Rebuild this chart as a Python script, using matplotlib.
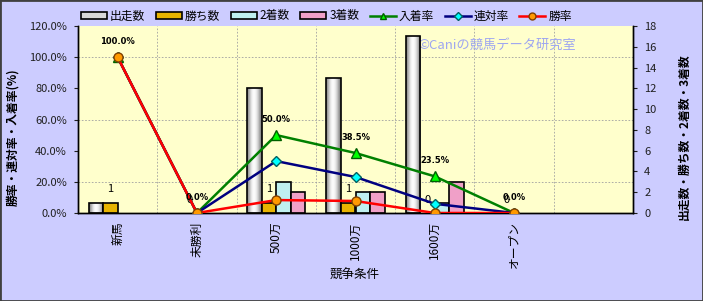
"""Race-condition results chart: bar counts on the right axis, rates on the left."""
import matplotlib
matplotlib.use('Agg')
import matplotlib.pyplot as plt
import numpy as np
from matplotlib.patches import Rectangle
from matplotlib.lines import Line2D
from matplotlib.ticker import FuncFormatter


plt.rcParams['font.family'] = ['Noto Sans CJK JP', 'DejaVu Sans']

# data
categories = ['新馬', '未勝利', '500万', '1000万', '1600万', 'オープン']
starts = [1, 0, 12, 13, 17, 0]        # 出走数
wins = [1, 0, 1, 1, 0, 0]             # 勝ち数
seconds = [0, 0, 3, 2, 1, 0]          # 2着数
thirds = [0, 0, 2, 2, 3, 0]           # 3着数
win_rate = [100.0, 0.0, 8.3, 7.7, 0.0, 0.0]        # 勝率
quinella_rate = [100.0, 0.0, 33.3, 23.1, 5.9, 0.0]  # 連対率
place_rate = [100.0, 0.0, 50.0, 38.5, 23.5, 0.0]    # 入着率

BG = '#ccccff'
PLOT_BG = '#ffffcc'
GOLD = '#e8b400'
CYAN = '#bff0f0'
PINK = '#f0a0c8'

n_slots = len(categories) + 1   # one empty slot on the right
x = np.arange(len(categories))

fig = plt.figure(figsize=(7.03, 3.01), dpi=100, facecolor=BG)
ax = fig.add_axes([78 / 703, 1 - 213 / 301, 555 / 703, 187 / 301])
ax.set_facecolor(PLOT_BG)

# counts axis lives on the right, rates twin on the left
ax2 = ax.twinx()
ax.yaxis.tick_right()
ax.yaxis.set_label_position('right')
ax2.yaxis.tick_left()
ax2.yaxis.set_label_position('left')

# --- bars ---
w = 0.183
offsets = np.array([-1.5, -0.5, 0.5, 1.5]) * w
b_start = ax.bar(x + offsets[0], starts, w, facecolor='none',
                 edgecolor='black', linewidth=1.2, zorder=3)
b_win = ax.bar(x + offsets[1], wins, w, color=GOLD,
               edgecolor='black', linewidth=1.2, zorder=3)
b_2nd = ax.bar(x + offsets[2], seconds, w, color=CYAN,
               edgecolor='black', linewidth=1.2, zorder=3)
b_3rd = ax.bar(x + offsets[3], thirds, w, color=PINK,
               edgecolor='black', linewidth=1.2, zorder=3)

# empty bars leave no outline
for cont in (b_start, b_win, b_2nd, b_3rd):
    for p in cont:
        if p.get_height() <= 0:
            p.set_visible(False)

# silver cylinder shading for the 出走数 bars
shade = np.array([[0.55, 0.8, 0.97, 1.0, 0.92, 0.75, 0.5]])
for p in b_start:
    if p.get_height() <= 0:
        continue
    im = ax.imshow(shade, extent=[p.get_x(), p.get_x() + p.get_width(), 0, p.get_height()],
                   aspect='auto', cmap='gray', vmin=0, vmax=1, zorder=2.5,
                   interpolation='bicubic')
    im.set_clip_path(p)

for xi, v in zip(x, wins):
    ax.annotate(str(v), (xi + offsets[1], v), xytext=(0, 6), textcoords='offset points',
                ha='center', va='bottom', fontsize=8, zorder=5)

ax.set_xlim(-0.5, n_slots - 0.5)
ax.set_ylim(0, 18)
ax.set_yticks(np.arange(0, 19, 2))
ax.set_yticks(np.arange(0, 19, 3), minor=True)
ax.set_xticks(x)
ax.set_xticklabels(categories, rotation=90, fontsize=8.5)
ax.set_xticks(np.arange(0.5, n_slots - 0.5, 1), minor=True)
ax.grid(which='minor', color='#a0a0a0', linestyle=(0, (2, 2)), linewidth=0.6, zorder=0)
ax.set_axisbelow(True)
ax.tick_params(axis='x', which='both', length=0, pad=6)
ax.tick_params(axis='y', which='minor', length=0)
ax.tick_params(axis='y', which='major', length=3, labelsize=8, pad=5, colors='#202020')

# --- rate lines ---
ax2.plot(x, place_rate, color='#008000', linewidth=1.8, marker='^', markersize=7,
         markerfacecolor='#00ff00', markeredgecolor='#006000', zorder=3)
ax2.plot(x, quinella_rate, color='#000080', linewidth=1.8, marker='D', markersize=5,
         markerfacecolor='#00ffff', markeredgecolor='#006060', zorder=4)
ax2.plot(x, win_rate, color='#ff0000', linewidth=1.8, marker='o', markersize=6.5,
         markerfacecolor='#ff9900', markeredgecolor='#804000', zorder=5)

for xi, v in zip(x, place_rate):
    ax2.annotate(f'{v:.1f}%', (xi, v), xytext=(0, 8), textcoords='offset points',
                 ha='center', va='bottom', fontsize=6, fontweight='bold', zorder=6,
                 family='DejaVu Sans')

ax2.set_ylim(0, 120)
ax2.set_yticks(np.arange(0, 121, 20))
ax2.yaxis.set_major_formatter(FuncFormatter(lambda v, _: f'{v:.1f}%'))
ax2.tick_params(axis='y', length=3, labelsize=8, pad=5, colors='#202020')

for a in (ax, ax2):
    a.spines['top'].set_visible(False)
    for s in ('left', 'right', 'bottom'):
        a.spines[s].set_color('black')
        a.spines[s].set_linewidth(1.0)

ax.text(0.6126, 0.899, '©Caniの競馬データ研究室', transform=ax.transAxes,
        ha='left', va='center', fontsize=9.5, color='#9ea6f0', zorder=1)

# --- axis titles ---
fig.text(13 / 703, 1 - 137 / 301, '勝率・連対率・入着率(%)', rotation=90,
         ha='center', va='center', fontsize=8.5, fontweight='bold')
fig.text(684 / 703, 1 - 137 / 301, '出走数・勝ち数・2着数・3着数', rotation=90,
         ha='center', va='center', fontsize=8.5, fontweight='bold')
fig.text(355 / 703, 1 - 275 / 301, '競争条件', ha='center', va='center', fontsize=9)

# --- legend ---
handles = [
    Rectangle((0, 0), 1, 1, facecolor='#d8d8d8', edgecolor='black', linewidth=1.2),
    Rectangle((0, 0), 1, 1, facecolor=GOLD, edgecolor='black', linewidth=1.2),
    Rectangle((0, 0), 1, 1, facecolor=CYAN, edgecolor='black', linewidth=1.2),
    Rectangle((0, 0), 1, 1, facecolor=PINK, edgecolor='black', linewidth=1.2),
    Line2D([], [], color='#008000', linewidth=1.8, marker='^', markersize=5,
           markerfacecolor='#00ff00', markeredgecolor='#006000'),
    Line2D([], [], color='#000080', linewidth=1.8, marker='D', markersize=4,
           markerfacecolor='#00ffff', markeredgecolor='#006060'),
    Line2D([], [], color='#ff0000', linewidth=1.8, marker='o', markersize=5,
           markerfacecolor='#ff9900', markeredgecolor='#804000'),
]
labels = ['出走数', '勝ち数', '2着数', '3着数', '入着率', '連対率', '勝率']
fig.legend(handles, labels, loc='center left', bbox_to_anchor=(81 / 703, 1 - 16 / 301),
           ncol=7, frameon=False, fontsize=8.5, handlelength=2.2, handleheight=0.5,
           handletextpad=0.25, columnspacing=0.9, borderpad=0, borderaxespad=0)

# outer frame
fig.patches.append(Rectangle((0, 0), 1, 1, transform=fig.transFigure, fill=False,
                             edgecolor='#404040', linewidth=2))

fig.savefig('out.png', dpi=100, facecolor=BG)
